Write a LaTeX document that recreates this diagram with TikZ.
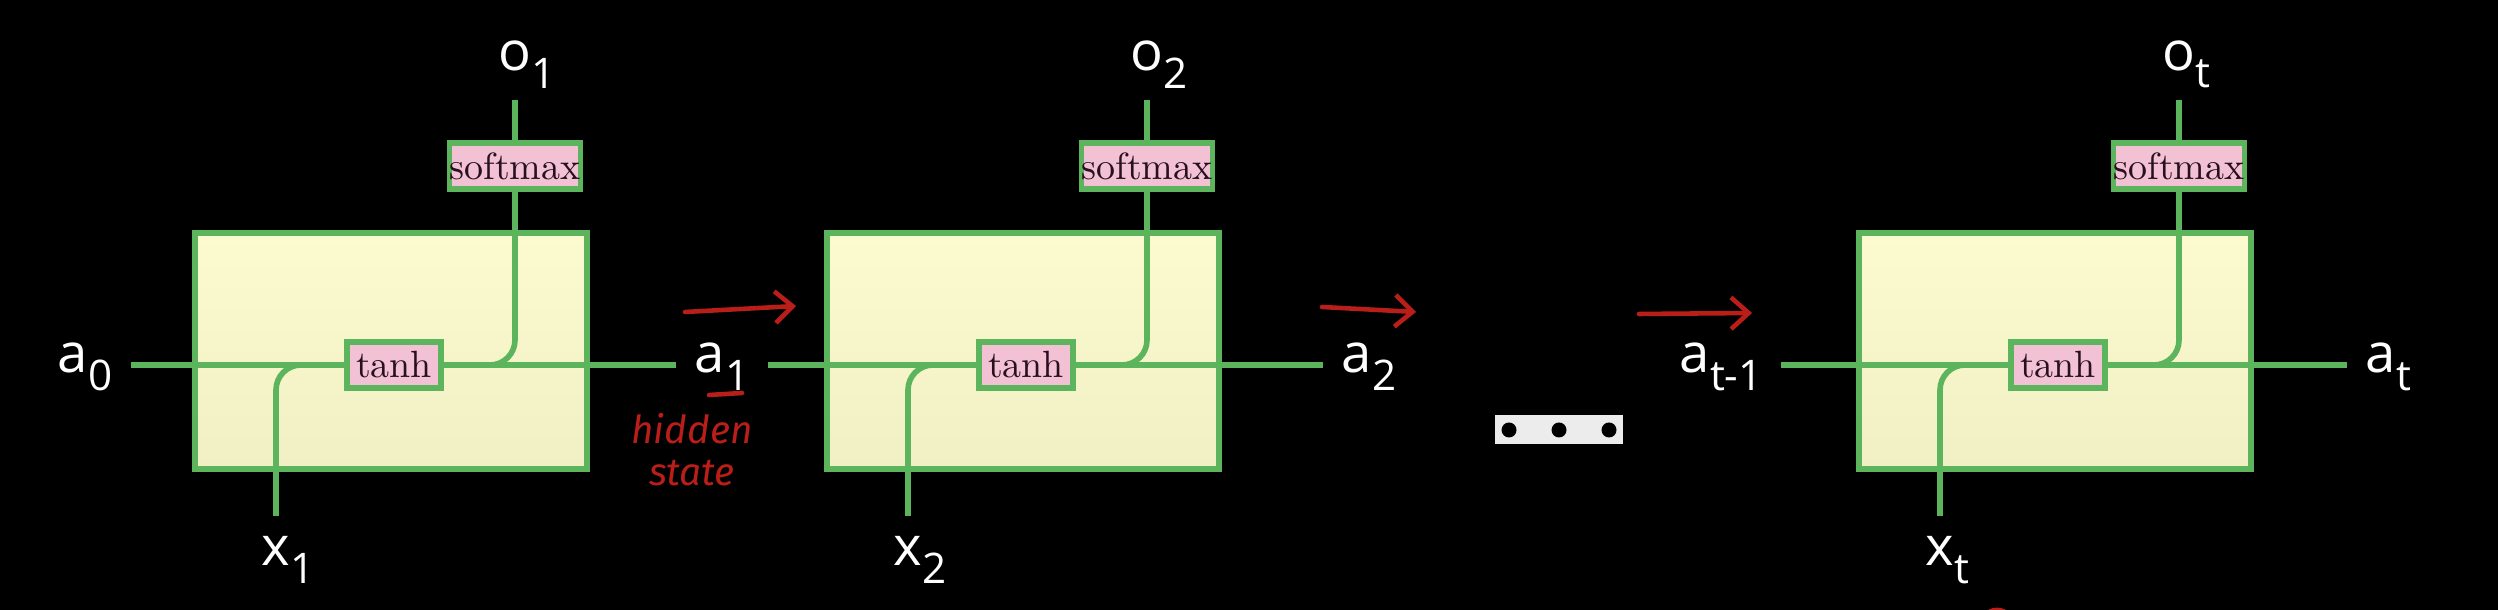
\documentclass[tikz,border=0pt]{standalone}
\usepackage{fontspec}
\setsansfont{Open Sans}
\newfontfamily\notefont{Fira Sans}
\usetikzlibrary{arrows.meta,positioning}

\definecolor{wiregreen}{RGB}{92,180,92}
\definecolor{cellyellow}{RGB}{252,251,208}
\definecolor{cellyellowlow}{RGB}{240,240,196}
\definecolor{gatepink}{RGB}{242,194,212}
\definecolor{gatetext}{RGB}{40,16,32}
\definecolor{penred}{RGB}{185,30,24}
\definecolor{dotbox}{RGB}{236,236,236}

% lowered index for the white labels
\newcommand{\idx}[1]{\raisebox{-5pt}{\fontsize{12}{12}\selectfont #1}}

\begin{document}
\begin{tikzpicture}[
  >=Stealth,
  cell/.style={draw=wiregreen,line width=1.8pt,top color=cellyellow,
    bottom color=cellyellowlow,minimum width=3.92cm,minimum height=2.36cm,
    inner sep=0pt},
  gate/.style={draw=wiregreen,line width=1.6pt,fill=gatepink,text=gatetext,
    inner sep=0pt,minimum height=0.46cm,font=\fontsize{10.8}{12}\selectfont},
  wire/.style={wiregreen,line width=1.6pt},
  branch/.style={wire,rounded corners=0.25cm},
  lbl/.style={text=white,font=\sffamily\fontsize{15.5}{16}\selectfont,
    inner xsep=0.18cm,inner ysep=0pt},
  pen/.style={penred,line width=1.3pt,line cap=round},
  note/.style={text=penred,font=\notefont\itshape\fontsize{11}{12}\selectfont,
    align=center,inner sep=0pt}
]

% page and background
\useasboundingbox (0,0) rectangle (24.98,6.10);
\fill[black] (0,0) rectangle (24.98,6.10);

% ------------------------------------------------------------
% first cell
% ------------------------------------------------------------
\begin{scope}
  \node[cell] (cell1) at (3.91,2.59) {};
  \node[gate,minimum width=0.94cm] (tanh1) at (3.94,2.45) {tanh};
  \node[gate,minimum width=1.28cm] (soft1) at (5.15,4.44) {softmax};
  \node[lbl,anchor=mid west] (a0) at (0.39,2.45) {a\idx{0}};
  \node[lbl,anchor=mid west] (a1) at (6.76,2.45) {a\idx{1}};
  \coordinate (top1) at (5.15,5.10);
  \coordinate (bot1) at (2.76,0.94);
  \node[lbl,above=0.11cm of top1] (o1) {o\rlap{\idx{1}}};
  \node[lbl,below=0.2cm of bot1] (x1) {x\rlap{\idx{1}}};

  \draw[wire] (a0.mid east) -- (tanh1.west);
  \draw[wire] (tanh1.east) -- (a1.mid west);
  \draw[branch] (tanh1.east) -| (soft1.south);
  \draw[branch] (bot1) |- (tanh1.west);
  \draw[wire] (soft1) -- (top1);
\end{scope}

% ------------------------------------------------------------
% second cell
% ------------------------------------------------------------
\begin{scope}[xshift=6.32cm]
  \node[cell] (cell2) at (3.91,2.59) {};
  \node[gate,minimum width=0.94cm] (tanh2) at (3.94,2.45) {tanh};
  \node[gate,minimum width=1.28cm] (soft2) at (5.15,4.44) {softmax};
  \node[lbl,anchor=mid west] (a2) at (6.91,2.45) {a\idx{2}};
  \coordinate (top2) at (5.15,5.10);
  \coordinate (bot2) at (2.76,0.94);
  \node[lbl,above=0.11cm of top2] (o2) {o\rlap{\idx{2}}};
  \node[lbl,below=0.2cm of bot2] (x2) {x\rlap{\idx{2}}};

  \draw[wire] (a1.mid east) -- (tanh2.west);
  \draw[wire] (tanh2.east) -- (a2.mid west);
  \draw[branch] (tanh2.east) -| (soft2.south);
  \draw[branch] (bot2) |- (tanh2.west);
  \draw[wire] (soft2) -- (top2);
\end{scope}

% dots between the cells
\node[fill=dotbox,minimum width=1.28cm,minimum height=0.29cm,inner sep=0pt]
  (dots) at (15.59,1.80) {};
\foreach \dx in {-0.5,0,0.5}
  \fill[black] ([xshift=\dx cm]dots.center) circle (0.075);

% ------------------------------------------------------------
% last cell
% ------------------------------------------------------------
\begin{scope}[xshift=16.64cm]
  \node[cell] (cell3) at (3.91,2.59) {};
  \node[gate,minimum width=0.94cm] (tanh3) at (3.94,2.45) {tanh};
  \node[gate,minimum width=1.28cm] (soft3) at (5.15,4.44) {softmax};
  \node[lbl,anchor=mid west] (aprev) at (-0.03,2.45) {a\idx{t-1}};
  \node[lbl,anchor=mid west] (at) at (6.83,2.45) {a\idx{t}};
  \coordinate (top3) at (5.15,5.10);
  \coordinate (bot3) at (2.76,0.94);
  \node[lbl,above=0.11cm of top3] (ot) {o\rlap{\idx{t}}};
  \node[lbl,below=0.2cm of bot3] (xt) {x\rlap{\idx{t}}};

  \draw[wire] (aprev.mid east) -- (tanh3.west);
  \draw[wire] (tanh3.east) -- (at.mid west);
  \draw[branch] (tanh3.east) -| (soft3.south);
  \draw[branch] (bot3) |- (tanh3.west);
  \draw[wire] (soft3) -- (top3);
\end{scope}

% ------------------------------------------------------------
% red pen notes
% ------------------------------------------------------------
\coordinate (p1) at (6.85,2.98);  \coordinate (q1) at (7.96,3.04);
\coordinate (p2) at (13.22,3.03); \coordinate (q2) at (14.16,2.98);
\coordinate (p3) at (16.39,2.96); \coordinate (q3) at (17.52,2.97);
\draw[pen,-{Straight Barb[length=5pt,width=9pt]}] (p1) -- (q1);
\draw[pen,-{Straight Barb[length=5pt,width=9pt]}] (p2) -- (q2);
\draw[pen,-{Straight Barb[length=5pt,width=9pt]}] (p3) -- (q3);
\draw[pen] (7.09,2.15) -- (7.42,2.17);
\node[note] (hidden) at (6.92,1.60) {hidden\\state};
\draw[pen,line width=1.6pt] (19.86,-0.06) to[bend left=60] (20.08,-0.06);

\end{tikzpicture}
\end{document}
